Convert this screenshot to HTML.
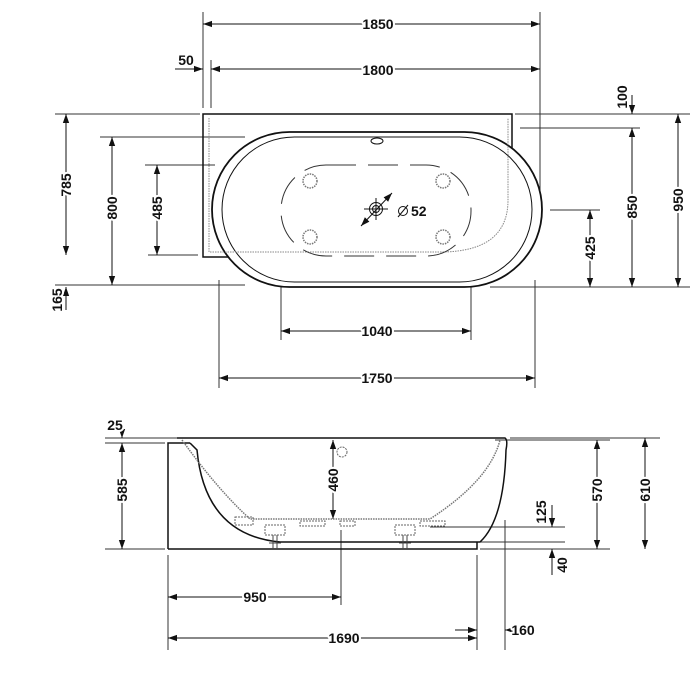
<!DOCTYPE html>
<html><head><style>html,body{margin:0;padding:0;background:#fff}svg{display:block}text{font-family:"Liberation Sans",sans-serif;font-weight:bold;font-size:14px;fill:#111;stroke:#fff;stroke-width:4px;paint-order:stroke;stroke-linejoin:round}</style></head><body>
<svg width="700" height="700" viewBox="0 0 700 700" xmlns="http://www.w3.org/2000/svg">
<defs>
<marker id="a" viewBox="0 0 10 10" refX="10" refY="5" markerWidth="9" markerHeight="9" orient="auto-start-reverse" markerUnits="userSpaceOnUse"><path d="M0,1.5L10,5L0,8.5z" fill="#111"/></marker>
</defs>
<g stroke="#333" stroke-width="1" fill="none">
<line x1="203" y1="12" x2="203" y2="108"/>
<line x1="540" y1="12" x2="540" y2="195"/>
<line x1="211" y1="60" x2="211" y2="108"/>
<line x1="55" y1="114" x2="200" y2="114"/>
<line x1="100" y1="137" x2="245" y2="137"/>
<line x1="145" y1="165" x2="215" y2="165"/>
<line x1="148" y1="255" x2="198" y2="255"/>
<line x1="55" y1="285" x2="245" y2="285"/>
<line x1="515" y1="114" x2="690" y2="114"/>
<line x1="520" y1="128" x2="640" y2="128"/>
<line x1="550" y1="210" x2="600" y2="210"/>
<line x1="490" y1="287" x2="690" y2="287"/>
<line x1="219" y1="280" x2="219" y2="388"/>
<line x1="535" y1="280" x2="535" y2="388"/>
<line x1="281" y1="250" x2="281" y2="340"/>
<line x1="471" y1="250" x2="471" y2="340"/>
</g>
<g stroke="#111" stroke-width="1" fill="none">
<line x1="203" y1="24" x2="540" y2="24" marker-start="url(#a)" marker-end="url(#a)"/>
<line x1="211" y1="69" x2="540" y2="69" marker-start="url(#a)" marker-end="url(#a)"/>
<line x1="175" y1="69" x2="203" y2="69" marker-end="url(#a)"/>
<line x1="632" y1="95" x2="632" y2="114" marker-end="url(#a)"/>
<line x1="632" y1="128" x2="632" y2="287" marker-start="url(#a)" marker-end="url(#a)"/>
<line x1="678" y1="114" x2="678" y2="287" marker-start="url(#a)" marker-end="url(#a)"/>
<line x1="590" y1="210" x2="590" y2="287" marker-start="url(#a)" marker-end="url(#a)"/>
<line x1="66" y1="114" x2="66" y2="255" marker-start="url(#a)" marker-end="url(#a)"/>
<line x1="112" y1="137" x2="112" y2="285" marker-start="url(#a)" marker-end="url(#a)"/>
<line x1="157" y1="165" x2="157" y2="255" marker-start="url(#a)" marker-end="url(#a)"/>
<line x1="66" y1="310" x2="66" y2="287" marker-end="url(#a)"/>
<line x1="281" y1="331" x2="471" y2="331" marker-start="url(#a)" marker-end="url(#a)"/>
<line x1="219" y1="378" x2="535" y2="378" marker-start="url(#a)" marker-end="url(#a)"/>
</g>
<g fill="none" stroke="#111">
<path d="M512,200 V114 H203 V257 H232" stroke-width="1.5"/>
<rect x="212" y="132" width="330" height="155" rx="77.5" fill="#fff" stroke-width="1.8"/>
<rect x="222" y="137" width="310" height="145" rx="72.5" stroke-width="1"/>
<path d="M209,118 V252 H440 Q508,252 508,200 V118" stroke="#888" stroke-dasharray="1.5,1"/>
<rect x="281" y="165" width="190" height="91" rx="45" stroke="#333" stroke-dasharray="30,12"/>
<ellipse cx="377" cy="141" rx="6" ry="3"/>
<g stroke="#777" stroke-dasharray="1.5,1" stroke-width="1.5">
<circle cx="310" cy="181" r="7"/><circle cx="443" cy="181" r="7"/>
<circle cx="310" cy="237" r="7"/><circle cx="443" cy="237" r="7"/>
</g>
<circle cx="376" cy="209" r="6.5"/><circle cx="376" cy="209" r="3.5"/>
<line x1="364" y1="209" x2="388" y2="209"/><line x1="376" y1="198" x2="376" y2="220"/>
<line x1="361" y1="226" x2="392" y2="193" marker-start="url(#a)" marker-end="url(#a)"/>
<line x1="398" y1="217" x2="408" y2="205"/>
<circle cx="403" cy="211" r="4.5"/>
</g>
<text x="411" y="216">52</text>
<text x="378" y="29" text-anchor="middle">1850</text>
<text x="378" y="75" text-anchor="middle">1800</text>
<text x="186" y="65" text-anchor="middle">50</text>
<text x="377" y="336" text-anchor="middle">1040</text>
<text x="377" y="383" text-anchor="middle">1750</text>
<g text-anchor="middle">
<text transform="translate(627,97) rotate(-90)">100</text>
<text transform="translate(637,207) rotate(-90)">850</text>
<text transform="translate(683,200) rotate(-90)">950</text>
<text transform="translate(595,248) rotate(-90)">425</text>
<text transform="translate(71,185) rotate(-90)">785</text>
<text transform="translate(117,208) rotate(-90)">800</text>
<text transform="translate(162,208) rotate(-90)">485</text>
<text transform="translate(62,300) rotate(-90)">165</text>
</g>
<g stroke="#333" fill="none">
<line x1="105" y1="438" x2="180" y2="438"/>
<line x1="105" y1="443" x2="165" y2="443"/>
<line x1="105" y1="549" x2="165" y2="549"/>
<line x1="510" y1="438" x2="660" y2="438"/>
<line x1="495" y1="440" x2="610" y2="440"/>
<line x1="430" y1="527" x2="565" y2="527"/>
<line x1="480" y1="542" x2="565" y2="542"/>
<line x1="480" y1="549" x2="610" y2="549"/>
<line x1="168" y1="555" x2="168" y2="650"/>
<line x1="341" y1="530" x2="341" y2="605"/>
<line x1="477" y1="555" x2="477" y2="650"/>
<line x1="505" y1="520" x2="505" y2="650"/>
</g>
<g stroke="#111" fill="none">
<line x1="122" y1="420" x2="122" y2="438" marker-end="url(#a)"/>
<line x1="122" y1="443" x2="122" y2="549" marker-start="url(#a)" marker-end="url(#a)"/>
<line x1="333" y1="440" x2="333" y2="519" marker-start="url(#a)" marker-end="url(#a)"/>
<line x1="597" y1="440" x2="597" y2="549" marker-start="url(#a)" marker-end="url(#a)"/>
<line x1="645" y1="438" x2="645" y2="549" marker-start="url(#a)" marker-end="url(#a)"/>
<line x1="552" y1="505" x2="552" y2="527" marker-end="url(#a)"/>
<line x1="552" y1="575" x2="552" y2="549" marker-end="url(#a)"/>
<line x1="168" y1="597" x2="341" y2="597" marker-start="url(#a)" marker-end="url(#a)"/>
<line x1="168" y1="638" x2="477" y2="638" marker-start="url(#a)" marker-end="url(#a)"/>
<line x1="455" y1="630" x2="477" y2="630" marker-end="url(#a)"/>
<line x1="530" y1="630" x2="505" y2="630" marker-end="url(#a)"/>
</g>
<g fill="none" stroke="#111">
<path d="M168,549 V443 H190 M168,549 H477 V542" stroke-width="1.5"/>
<path d="M177,438 H505 Q508,440 506,450 Q504,520 480,542 H280 Q205,535 197,450 L190,443" stroke-width="1.5"/>
<path d="M182,440 Q218,490 250,519 L430,519 Q490,480 500,440" stroke="#777" stroke-dasharray="1.5,1" stroke-width="1.5"/>
<circle cx="342" cy="452" r="5" stroke="#666" stroke-dasharray="2,1"/>
<g stroke="#666" stroke-dasharray="2,1">
<rect x="235" y="517" width="18" height="8"/>
<rect x="265" y="525" width="20" height="10"/>
<rect x="395" y="525" width="20" height="10"/>
<rect x="300" y="521" width="25" height="5"/>
<rect x="340" y="521" width="15" height="5"/>
<rect x="420" y="521" width="25" height="5"/>
</g>
<path d="M273,535 V549 M277,535 V549 M403,535 V549 M407,535 V549" stroke="#444"/>
<path d="M269,543 H281 M399,543 H411" stroke="#444"/>
</g>
<text x="115" y="430" text-anchor="middle">25</text>
<g text-anchor="middle">
<text transform="translate(127,490) rotate(-90)">585</text>
<text transform="translate(338,480) rotate(-90)">460</text>
<text transform="translate(602,490) rotate(-90)">570</text>
<text transform="translate(650,490) rotate(-90)">610</text>
<text transform="translate(546,512) rotate(-90)">125</text>
<text transform="translate(567,565) rotate(-90)">40</text>
</g>
<text x="255" y="602" text-anchor="middle">950</text>
<text x="344" y="643" text-anchor="middle">1690</text>
<text x="523" y="635" text-anchor="middle">160</text>
</svg>
</body></html>
